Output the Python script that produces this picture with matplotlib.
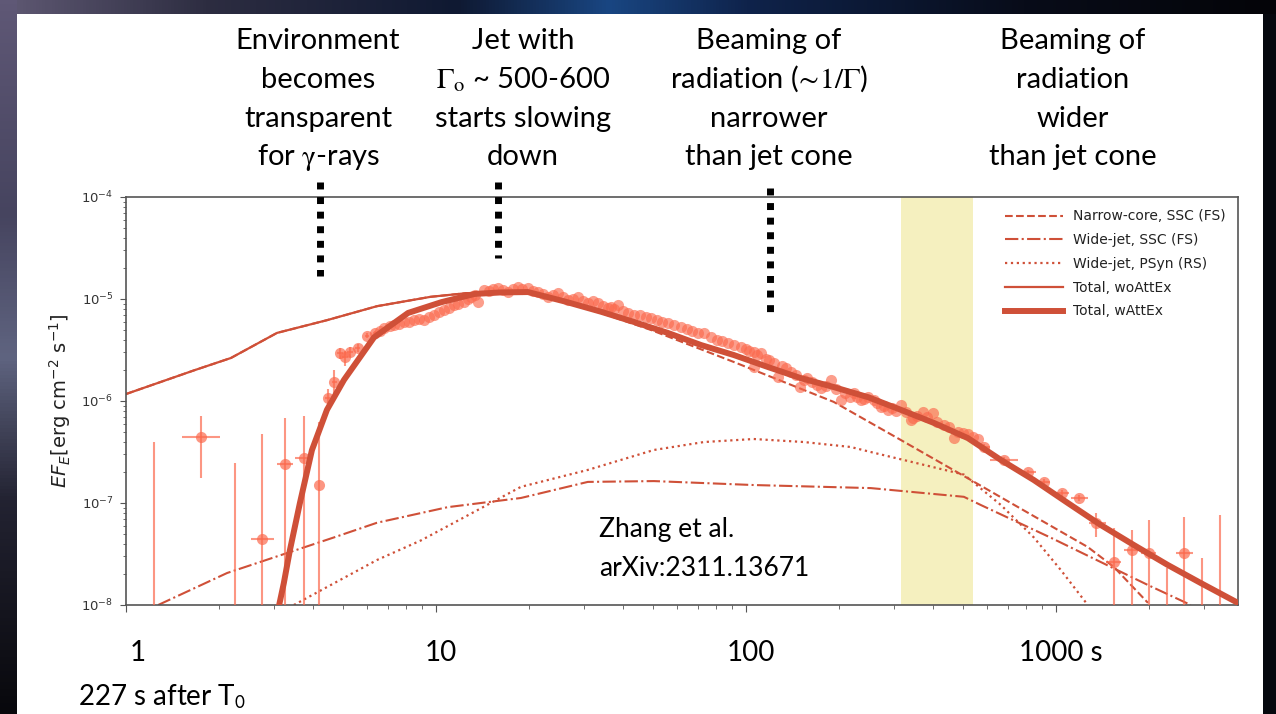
import numpy as np
import matplotlib
matplotlib.use("Agg")
import matplotlib.pyplot as plt
import matplotlib.transforms as mtransforms
from matplotlib.patches import Rectangle
from matplotlib.ticker import FixedLocator, FixedFormatter, NullFormatter, LogLocator

# ------------------------------------------------------------------ data
# flux values are in units of 1e-6 erg cm^-2 s^-1, times in s

# dense observed light curve points (no visible error bars)
obs_t = [6.6, 6.8, 7.1, 7.32, 7.6, 7.88, 8.2, 8.49, 8.8, 9.15,
         9.5, 9.86, 10.2, 10.6, 11.0, 11.4, 11.8, 12.3, 12.7, 13.0,
         13.4, 13.7, 14.3, 14.8, 15.3, 15.8, 16.4, 17.1, 17.7, 18.4,
         19.0, 19.8, 20.5, 21.3, 22.1, 23.0, 23.9, 24.8, 25.7, 26.7,
         27.7, 28.7, 29.8, 30.9, 32.0, 33.3, 34.5, 35.9, 36.7, 37.5,
         38.6, 40.0, 41.6, 43.5, 45.5, 47.5, 49.4, 51.5, 53.5, 56.0,
         58.5, 61.7, 64.5, 67.0, 70.0, 73.0, 77.0, 80.5, 84.0, 87.5,
         91.5, 96.3, 100, 102, 106, 106, 109, 112, 116, 119,
         123, 127, 131, 135, 140, 145, 150, 154, 158, 163,
         169, 175, 181, 188, 195, 202, 209, 216, 223, 229,
         235, 241, 248, 259, 265, 272, 279, 287, 295, 305,
         316, 328, 340, 346, 356, 372, 385, 401, 415, 435,
         452, 469, 485, 501, 520, 540, 560]
obs_f = [4.9, 5.2, 5.4, 5.56, 5.7, 5.95, 6.0, 6.22, 6.4, 6.22,
         6.6, 6.97, 7.4, 7.8, 8.2, 8.73, 9.0, 9.35, 10.0, 10.5,
         10.9, 9.35, 12.2, 11.9, 12.5, 12.8, 12.2, 11.7, 12.6, 13.1,
         12.4, 12.8, 12.1, 11.7, 11.3, 10.5, 10.9, 11.5, 10.4, 9.77,
         10.0, 10.5, 9.6, 9.14, 9.5, 9.14, 8.6, 8.17, 8.36, 8.0,
         8.73, 7.6, 7.3, 6.97, 6.9, 6.6, 6.52, 6.2, 6.0, 5.82,
         5.5, 5.31, 5.1, 4.9, 4.65, 4.6, 4.24, 4.0, 3.85, 3.7,
         3.55, 3.38, 3.2, 3.1, 3.02, 2.15, 2.85, 2.96, 2.6, 2.55,
         2.36, 1.72, 2.2, 2.1, 1.92, 1.8, 1.37, 1.6, 1.68, 1.55,
         1.45, 1.34, 1.4, 1.61, 1.3, 1.02, 1.2, 1.1, 1.2, 1.1,
         1.02, 1.05, 1.09, 1.02, 0.95, 0.87, 0.9, 0.82, 0.85, 0.8,
         0.91, 0.78, 0.65, 0.68, 0.72, 0.78, 0.70, 0.76, 0.62, 0.58,
         0.55, 0.43, 0.5, 0.485, 0.47, 0.44, 0.42]

# points with error bars (value, time range, flux range)
eb_t    = [1.23, 1.75, 2.25, 2.75, 3.26, 3.75, 4.2, 4.48, 4.70, 4.90, 5.09, 5.28, 5.60, 5.99, 6.35,
           586, 679, 813, 915, 1045, 1186, 1346, 1539, 1758, 1995, 2280, 2588, 2958, 3381]
eb_t_lo = [1.23, 1.52, 2.25, 2.53, 3.07, 3.51, 4.2, 4.40, 4.62, 4.78, 4.98, 5.17, 5.50, 5.90, 6.25,
           560, 614, 770, 870, 990, 1117, 1275, 1450, 1660, 1880, 2280, 2440, 2958, 3381]
eb_t_hi = [1.23, 2.01, 2.25, 3.00, 3.46, 3.98, 4.2, 4.56, 4.78, 5.02, 5.20, 5.40, 5.70, 6.08, 6.45,
           615, 754, 860, 960, 1100, 1268, 1450, 1620, 1860, 2110, 2280, 2780, 2958, 3381]
eb_f    = [0.005, 0.44, 0.005, 0.044, 0.241, 0.276, 0.15, 1.07, 1.54, 2.96, 2.70, 3.02, 3.31, 4.34, 4.65,
           0.354, 0.264, 0.20, 0.161, 0.125, 0.112, 0.064, 0.0264, 0.0346, 0.0324, 0.005, 0.0324, 0.005, 0.005]
eb_f_lo = [0.001, 0.176, 0.001, 0.001, 0.001, 0.001, 0.001, 0.80, 1.20, 2.60, 2.20, 2.70, 3.05, 4.10, 4.45,
           0.33, 0.25, 0.19, 0.15, 0.118, 0.104, 0.046, 0.001, 0.001, 0.001, 0.001, 0.001, 0.001, 0.001]
eb_f_hi = [0.396, 0.71, 0.247, 0.48, 0.68, 0.71, 0.62, 1.30, 2.00, 3.30, 3.10, 3.35, 3.60, 4.60, 4.85,
           0.38, 0.28, 0.21, 0.17, 0.133, 0.121, 0.079, 0.057, 0.054, 0.068, 0.0231, 0.073, 0.0289, 0.0762]

# model curves
tot_att_t = [3.12, 3.23, 3.38, 3.64, 3.98, 4.45, 5.05, 6.31, 8.13, 10.4, 13.3, 16.2, 19.8, 25.9,
             34.1, 43.5, 56.0, 71.6, 91.5, 118, 150, 192, 248, 316, 404, 520, 665, 849,
             1093, 1397, 1786, 2296, 2937, 3865]
tot_att_f = [0.01, 0.0164, 0.0346, 0.10, 0.33, 0.82, 1.61, 4.2, 7.3, 9.3, 11.2, 11.6, 11.7, 9.5,
             7.5, 5.96, 4.65, 3.54, 2.82, 2.15, 1.68, 1.37, 1.09, 0.82, 0.61, 0.433, 0.264, 0.168,
             0.10, 0.0608, 0.0387, 0.0247, 0.0164, 0.0105]

tot_noatt_t = [1.0, 1.66, 2.18, 3.07, 4.45, 6.45, 9.6, 12.5, 16.2, 19.8, 25.9,
               34.1, 43.5, 56.0, 71.6, 91.5, 118, 150, 192, 248, 316, 404, 520, 665, 849,
               1093, 1397, 1786, 2296, 2937, 3865]
tot_noatt_f = [1.17, 2.0, 2.64, 4.65, 6.2, 8.5, 10.5, 11.4, 11.7, 11.7, 9.5,
               7.5, 5.96, 4.65, 3.54, 2.82, 2.15, 1.68, 1.37, 1.09, 0.82, 0.61, 0.433, 0.264, 0.168,
               0.10, 0.0608, 0.0387, 0.0247, 0.0164, 0.0105]

narrow_t = [1.0, 1.66, 2.18, 3.07, 4.45, 6.45, 9.6, 12.5, 16.2, 19.8, 25.9, 34.1,
            49.4, 91.5, 192, 316, 532, 716, 1268, 1539, 1982]
narrow_f = [1.17, 2.0, 2.64, 4.65, 6.2, 8.5, 10.5, 11.4, 11.6, 11.5, 9.3, 7.3,
            4.97, 2.41, 0.98, 0.415, 0.168, 0.10, 0.037, 0.0236, 0.0105]

widessc_t = [1.27, 2.12, 4.69, 6.45, 10.9, 18.8, 30.9, 50.5, 106, 253, 505, 573, 963, 1982, 2725]
widessc_f = [0.01, 0.0206, 0.046, 0.064, 0.091, 0.112, 0.161, 0.164, 0.150, 0.140, 0.115, 0.0955,
             0.0457, 0.0157, 0.01]

psyn_t = [3.48, 6.45, 8.95, 18.8, 30.9, 50.5, 73.2, 106, 154, 218, 253, 505, 665, 849, 1038, 1268]
psyn_f = [0.01, 0.0276, 0.043, 0.144, 0.211, 0.331, 0.396, 0.424, 0.396, 0.354, 0.316, 0.19,
          0.0955, 0.046, 0.022, 0.01]

band_t = [316, 540]                 # highlighted interval
event_t = [4.23, 15.8, 120]          # dotted event markers

legend_labels = ["Narrow-core, SSC (FS)", "Wide-jet, SSC (FS)", "Wide-jet, PSyn (RS)",
                 "Total, woAttEx", "Total, wAttEx"]
xtick_vals = [1, 10, 100, 1000]
xtick_labels = ["1", "10", "100", "1000 s"]

notes = [
    ["Environment", "becomes", "transparent", "for $\\mathrm{\\gamma}$-rays"],
    ["Jet with", "$\\mathrm{\\Gamma}_{\\mathrm{o}}$ ~ 500-600", "starts slowing", "down"],
    ["Beaming of", "radiation ($\\mathrm{\\!\\sim\\!1/\\Gamma}$)", "narrower", "than jet cone"],
    ["Beaming of", "radiation", "wider", "than jet cone"],
]

# ------------------------------------------------------------------ figure
W, H = 1276, 714
plt.rcParams['font.family'] = ['DejaVu Sans']
fig = plt.figure(figsize=(W / 100, H / 100), dpi=100)
fig.patch.set_facecolor('#06080e')

# slide background decoration (left and top dark strips)
def grad(stops, n):
    pos = np.array([s[0] for s in stops])
    cols = np.array([s[1] for s in stops], dtype=float) / 255.0
    p = np.linspace(0, 1, n)
    return np.stack([np.interp(p, pos, cols[:, k]) for k in range(3)], axis=-1)

left_ax = fig.add_axes([0, 0, 17 / W, 1], zorder=-20)
left_ax.set_axis_off()
lg = grad([(0, (95, 88, 118)), (0.3, (70, 68, 95)), (0.5, (95, 100, 128)),
           (0.7, (35, 35, 50)), (1.0, (8, 8, 12))], 200)
left_ax.imshow(lg[:, None, :], aspect='auto', extent=[0, 1, 0, 1], origin='upper')

top_ax = fig.add_axes([17 / W, 1 - 14 / H, 1 - 17 / W, 14 / H], zorder=-20)
top_ax.set_axis_off()
tg = grad([(0, (92, 86, 112)), (0.15, (45, 45, 65)), (0.35, (15, 25, 50)),
           (0.47, (25, 70, 130)), (0.58, (15, 35, 75)), (0.8, (8, 12, 25)), (1.0, (4, 4, 8))], 400)
top_ax.imshow(tg[None, :, :], aspect='auto', extent=[0, 1, 0, 1])

fig.add_artist(Rectangle((17 / W, 0), (1263 - 17) / W, (714 - 14) / H,
                         transform=fig.transFigure, facecolor='white', edgecolor='none', zorder=-10))

ax = fig.add_axes([126 / W, 1 - 605 / H, (1238 - 126) / W, (605 - 197) / H])
ax.set_xscale('log')
ax.set_yscale('log')
ax.set_xlim(1.0, 3870)
ax.set_ylim(1e-8, 1e-4)
ax.set_facecolor('none')

line_c = '#cf5038'
pt_c = '#fb6a4e'
sc = 1e-6

ax.axvspan(band_t[0], band_t[1], color='#f5f0bf', lw=0, zorder=0)

h1, = ax.plot(narrow_t, np.array(narrow_f) * sc, ls='--', color=line_c, lw=1.5, zorder=2)
h2, = ax.plot(widessc_t, np.array(widessc_f) * sc, ls='-.', color=line_c, lw=1.5, zorder=2)
h3, = ax.plot(psyn_t, np.array(psyn_f) * sc, ls=':', color=line_c, lw=1.6, zorder=2)
h4, = ax.plot(tot_noatt_t, np.array(tot_noatt_f) * sc, ls='-', color=line_c, lw=1.6, zorder=2)

eb_t_a = np.array(eb_t); eb_f_a = np.array(eb_f)
ax.errorbar(eb_t_a, eb_f_a * sc,
            xerr=[eb_t_a - np.array(eb_t_lo), np.array(eb_t_hi) - eb_t_a],
            yerr=[(eb_f_a - np.array(eb_f_lo)) * sc, (np.array(eb_f_hi) - eb_f_a) * sc],
            fmt='o', ms=8, mew=0, color=pt_c, alpha=0.7, elinewidth=1.5, capsize=0, zorder=3)
ax.plot(obs_t, np.array(obs_f) * sc, 'o', ms=8, mew=0, color=pt_c, alpha=0.65, zorder=3)

h5, = ax.plot(tot_att_t, np.array(tot_att_f) * sc, ls='-', color=line_c, lw=4.3, zorder=4,
              solid_joinstyle='round')

leg = ax.legend([h1, h2, h3, h4, h5], legend_labels, loc='upper right', frameon=False,
                fontsize=10, handlelength=4.2, handletextpad=0.7, labelspacing=0.7)
for t in leg.get_texts():
    t.set_color('#222222')

# axes styling
for s in ax.spines.values():
    s.set_color('#555555')
    s.set_linewidth(1.2)
ax.tick_params(axis='both', which='both', colors='#555555', direction='out')
ax.tick_params(axis='y', which='major', labelsize=9.5, labelcolor='#333333', length=4, pad=5)
ax.tick_params(axis='y', which='minor', length=2.5)
ax.xaxis.set_major_locator(FixedLocator(xtick_vals))
ax.xaxis.set_major_formatter(FixedFormatter(xtick_labels))
ax.xaxis.set_minor_locator(LogLocator(base=10, subs=np.arange(2, 10)))
ax.xaxis.set_minor_formatter(NullFormatter())
ax.tick_params(axis='x', which='major', length=5, pad=20, labelsize=20, labelcolor='black')
ax.tick_params(axis='x', which='minor', length=3)
fig.canvas.draw()
for i, lab in enumerate(ax.get_xticklabels()):
    lab.set_family(['Lato', 'DejaVu Sans'])
    lab.set_transform(lab.get_transform() +
                      mtransforms.ScaledTranslation((12 if i == 0 else 5) / 100, 0, fig.dpi_scale_trans))

ax.set_ylabel(r'$EF_E$[erg cm$^{-2}$ s$^{-1}$]', fontsize=14, labelpad=6, color='#222222')

# event markers (thick black dotted columns)
trans = mtransforms.blended_transform_factory(ax.transData, ax.transAxes)
tops = [1.037, 1.037, 1.022]
bots = [0.806, 0.850, 0.718]
for et, yt, yb in zip(event_t, tops, bots):
    ax.plot([et, et], [yt, yb], transform=trans, clip_on=False, color='black', lw=5,
            dashes=(1.0, 1.1), dash_capstyle='butt', solid_capstyle='butt', zorder=6)

# slide text
fam = ['Lato', 'DejaVu Sans']
centers_x = [318, 523, 769, 1073]
baselines = [49, 88, 127, 165]
for cx, lines in zip(centers_x, notes):
    for by, s in zip(baselines, lines):
        fig.text(cx / W, 1 - by / H, s, family=fam, fontsize=21, ha='center', va='baseline',
                 math_fontfamily='stix', color='black')

fig.text(599 / W, 1 - 537 / H, "Zhang et al.", family=fam, fontsize=19,
         ha='left', va='baseline', color='black')
fig.text(599 / W, 1 - 576 / H, "arXiv:2311.13671", family=fam, fontsize=19,
         ha='left', va='baseline', color='black')
fig.text(78 / W, 1 - 697 / H, "227 s after T$_{\\mathsf{0}}$", family=fam, fontsize=20,
         ha='left', va='center', math_fontfamily='stix', color='black')

fig.savefig('out.png', dpi=100, facecolor=fig.get_facecolor())
